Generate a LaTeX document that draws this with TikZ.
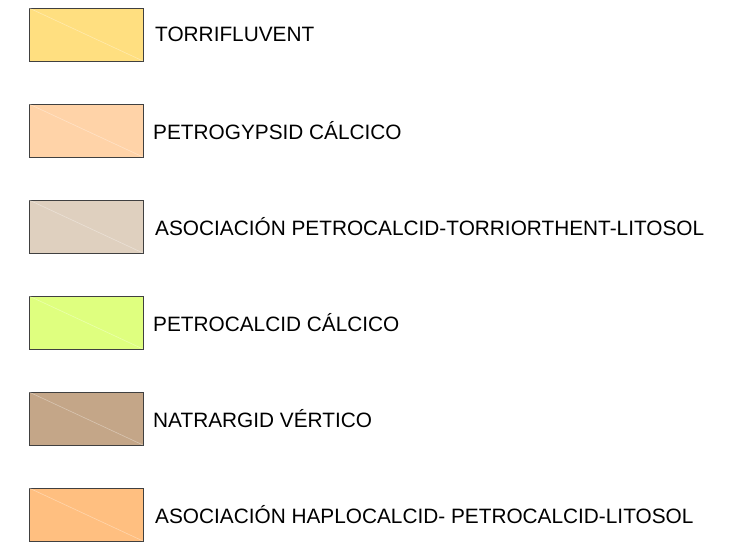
\documentclass[tikz,border=0pt]{standalone}
\usepackage{fontspec}
\setmainfont{Liberation Sans}
\definecolor{cA}{HTML}{FFDF80}
\definecolor{cB}{HTML}{FFD3A8}
\definecolor{cC}{HTML}{DFD0BF}
\definecolor{cD}{HTML}{DFFF7F}
\definecolor{cE}{HTML}{C4A688}
\definecolor{cF}{HTML}{FFBF80}
\definecolor{edge}{HTML}{404040}
\tikzset{
  swatch/.style={draw=edge, line width=0.9pt, minimum width=114pt, minimum height=53pt, inner sep=0pt, anchor=north west, outer sep=0pt},
  lbl/.style={anchor=west, inner sep=0pt, font=\fontsize{20.8pt}{24pt}\selectfont},
  diag/.style={draw=white, opacity=0.35, line width=0.6pt}
}
\begin{document}
\begin{tikzpicture}[x=1pt,y=-1pt]
\useasboundingbox (0,0) rectangle (731,547);
\node[swatch, fill=cA] (s1) at (29,8) {};
\node[swatch, fill=cB] (s2) at (29,104) {};
\node[swatch, fill=cC] (s3) at (29,200) {};
\node[swatch, fill=cD] (s4) at (29,296) {};
\node[swatch, fill=cE] (s5) at (29,392) {};
\node[swatch, fill=cF] (s6) at (29,488) {};
\foreach \i in {1,...,6}{\path[diag] (s\i.north west) -- (s\i.south east);}
\node[lbl] (t1) at (155,34.5) {TORRIFLUVENT};
\node[lbl] (t2) at (153,130.5) {PETROGYPSID CÁLCICO};
\node[lbl] (t3) at (155,226.5) {ASOCIACIÓN PETROCALCID-TORRIORTHENT-LITOSOL};
\node[lbl] (t4) at (153,322.5) {PETROCALCID CÁLCICO};
\node[lbl] (t5) at (153,418.5) {NATRARGID VÉRTICO};
\node[lbl] (t6) at (155,514.5) {ASOCIACIÓN HAPLOCALCID- PETROCALCID-LITOSOL};
\end{tikzpicture}
\end{document}
